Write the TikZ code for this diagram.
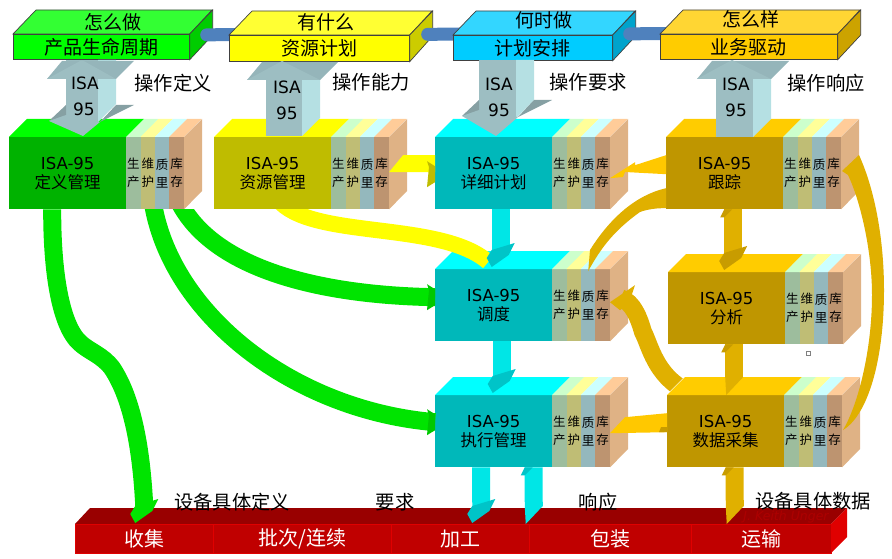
\documentclass[tikz,border=0pt]{standalone}
\usepackage{fontspec}
\setmainfont{Noto Sans CJK SC}
\newfontfamily\latinfont{DejaVu Sans}
\definecolor{stripa}{HTML}{9DBD9D}
\definecolor{stripb}{HTML}{BFBD75}
\definecolor{stripc}{HTML}{94B8BD}
\definecolor{stripd}{HTML}{BD9470}
\definecolor{stripatop}{HTML}{CCFFCC}
\definecolor{stripbtop}{HTML}{FFFF99}
\definecolor{stripctop}{HTML}{CCFFFF}
\definecolor{stripdtop}{HTML}{FFCC99}
\definecolor{sidetan}{HTML}{DFB285}
\definecolor{isafront}{HTML}{9DBEC2}
\definecolor{isaside}{HTML}{B5E0E3}
\definecolor{isawing}{HTML}{86A0A3}
\definecolor{isahead}{HTML}{95B5BA}
\definecolor{pipeblue}{HTML}{4F81BD}
\definecolor{greenrib}{HTML}{00E400}
\definecolor{greendark}{HTML}{00C800}
\definecolor{cyanrib}{HTML}{00E6E6}
\definecolor{cyandark}{HTML}{00C4C8}
\definecolor{goldrib}{HTML}{E0B000}
\definecolor{golddark}{HTML}{C89C00}
\definecolor{amberrib}{HTML}{FFC800}
\definecolor{skyfront}{HTML}{00CCFF}
\definecolor{greentop}{HTML}{00FF00}
\definecolor{greenfront}{HTML}{00B200}
\definecolor{yellowtop}{HTML}{FFFF00}
\definecolor{yellowfront}{HTML}{BFBC00}
\definecolor{cyantop}{HTML}{00FFFF}
\definecolor{cyanfront}{HTML}{00B8BA}
\definecolor{goldtop}{HTML}{FFCC00}
\definecolor{goldfront}{HTML}{BF9600}
\definecolor{redfront}{HTML}{C00000}
\definecolor{redtop}{HTML}{990000}
\definecolor{redside}{HTML}{E00000}
\tikzset{
	barfront/.style={draw=black!75,line width=0.7pt,anchor=north west,inner sep=0pt,font=\fontsize{19}{21}\selectfont},
	bartext/.style={font=\fontsize{19}{21}\selectfont,inner sep=0pt,text=black},
	modfront/.style={anchor=north west,minimum width=117,minimum height=72,inner sep=0pt,align=center,font=\fontsize{16.5}{19}\selectfont,text=black},
	stripbox/.style={anchor=north west,text width=14.4,minimum height=72,inner sep=0pt,align=center,font=\fontsize{12.5}{18}\selectfont,text=black},
	redseg/.style={anchor=north west,minimum height=29,inner sep=0pt,fill=redfront,draw=redside,line width=0.5pt,text=white,font=\fontsize{20}{22}\selectfont},
	toplabel/.style={font=\fontsize{19.3}{21}\selectfont,inner sep=0pt,text=black},
	isatext/.style={font=\latinfont\fontsize{17}{19}\selectfont,inner sep=0pt,text=black},
	ribbon/.style={line width=18pt},
	pipe/.style={line width=13pt,line cap=round,pipeblue}
}
% front, top and side of a bar at the top
\newcommand{\topbar}[9]{%
	\node[barfront,fill=#6,minimum width=#4,minimum height=#5] (#1) at (#2,#3) {#9};
	\filldraw[draw=black!75,line width=0.7pt,fill=#7] (#1.north west) -- ++(23,-24) -- ++(#4,0) -- (#1.north east) -- cycle;
	\filldraw[draw=black!75,line width=0.7pt,fill=#8] (#1.north east) -- ++(23,-24) -- ++(0,25) -- (#1.south east) -- cycle;
}
% one ISA-95 module with its four strips
\newcommand{\modbox}[6]{%
	\node[modfront,fill=#4] (#1) at (#2,#3) {{\latinfont ISA-95}\\#6};
	\fill[#5] (#1.north west) -- ++(18,-18) -- ++(117,0) -- (#1.north east) -- cycle;
	\foreach \sfc/\stc/\sa/\sb [count=\n] in {stripa/stripatop/生/产,stripb/stripbtop/维/护,stripc/stripctop/质/里,stripd/stripdtop/库/存}{
		\node[stripbox,fill=\sfc] (#1-\n) at ({#2+117+14.4*(\n-1)},#3) {\sa\\\sb};
		\fill[\stc] (#1-\n.north west) -- ++(18,-18) -- ++(14.4,0) -- (#1-\n.north east) -- cycle;
	}
	\fill[sidetan] (#1-4.north east) -- ++(18,-18) -- ++(0,72) -- (#1-4.south east) -- cycle;
}
% shaft of a block arrow: x, width, top, bottom
\newcommand{\isabody}[4]{%
	\fill[isaside] ({#1+#2},#3) -- ++(18,0) -- ({#1+#2+18},{#4-18}) -- ({#1+#2},#4) -- cycle;
	\fill[isafront] (#1,#3) rectangle ({#1+#2},#4);
}
% upper head: x, width, y of its tip
\newcommand{\isaup}[3]{%
	\fill[isahead] ({#1-19},{#3+19}) -- ({#1-4},{#3+1}) -- ({#1+#2+36},{#3+1}) -- ({#1+#2+18},{#3+19}) -- cycle;
	\fill[isafront] ({#1-19},{#3+19}) -- ({#1+16},#3) -- ({#1+#2+18},{#3+19}) -- cycle;
}
% lower head: x, width, y of its wings, y of its tip
\newcommand{\isadown}[4]{%
	\fill[isawing] (#1,#3) -- ({#1-17},{#3+16}) -- (#1,{#3+16}) -- cycle;
	\fill[isawing] ({#1+#2+18},#3) -- ({#1+#2+36},#3) -- ({#1+#2+2},{#3+17}) -- cycle;
	\fill[isafront] ({#1-17},{#3+16}) -- ({#1+17},#4) -- ({#1+#2+2},{#3+17}) -- (#1,{#3+10}) -- cycle;
}
% heads of the ribbons, each placed from the end of its ribbon
\newcommand{\headdown}[2]{\fill[#1] (#2) ++(-9,17) -- ++(-5,-9) -- ++(5,-8) -- ++(23,-7) -- ++(-6,12) -- cycle;}
\newcommand{\headup}[2]{\fill[#1] (#2) ++(-9,0) -- ++(-4,8) -- ++(4,0) -- ++(8,-8) -- cycle;}
\newcommand{\basetip}[2]{\fill[#1] (#2) ++(-9,0) -- ++(18,0) -- ++(-17,18) -- cycle;}
\newcommand{\headeast}[2]{\fill[#1] (#2) ++(0,-8) -- ++(-8,-5) -- ++(2,6) -- ++(-2,20) -- ++(8,-5) -- cycle;}
\begin{document}
\begin{tikzpicture}[x=1pt,y=-1pt]
	\useasboundingbox (0,0) rectangle (892,559);
	
	% Top row
	\coordinate (pipea) at (238,34.5);
	\coordinate (pipeb) at (462,34);
	\coordinate (pipec) at (668,33.5);
	\topbar{defbar}{13}{34}{176}{25}{greentop}{greentop!80!white}{greentop!80!black}{产品生命周期}
	\draw[pipe] ([xshift=17,yshift=12]defbar.east) -- (pipea);
	\topbar{resbar}{229}{35}{180}{26}{yellowtop}{yellowtop!80!white}{yellowtop!80!black}{资源计划}
	\draw[pipe] ([xshift=18,yshift=14]resbar.east) -- (pipeb);
	\topbar{planbar}{453}{35}{159}{25}{skyfront}{skyfront!80!white}{skyfront!80!black}{计划安排}
	\draw[pipe] ([xshift=17,yshift=14]planbar.east) -- (pipec);
	\topbar{busbar}{660}{34}{177}{25}{goldtop}{goldtop!80!white}{goldtop!80!black}{业务驱动}
	\node[bartext] (howdo) at (113,22) {怎么做};
	\node[bartext] (whathave) at (326,22) {有什么};
	\node[bartext] (whendo) at (544,20) {何时做};
	\node[bartext] (howgo) at (751,19) {怎么样};
	
	% Red bar at the bottom
	\fill[redtop] (75,524) -- (90,508) -- (847,508) -- (831,524) -- cycle;
	\fill[redside] (831,524) -- (847,508) -- (847,537) -- (831,553) -- cycle;
	\node[redseg,minimum width=138] (collect) at (75,524) {收集};
	\node[redseg,minimum width=178] (batch) at (213,524) {批次/连续};
	\node[redseg,minimum width=138] (process) at (391,524) {加工};
	\node[redseg,minimum width=162] (pack) at (529,524) {包装};
	\node[redseg,minimum width=140] (ship) at (691,524) {运输};
	\node[font=\latinfont\itshape\fontsize{12.5}{14}\selectfont,text=red!68!black,inner sep=0pt] (keith) at (786,517) {J. Keith Unger};
	
	% Modules
	\modbox{defmod}{9}{137}{greenfront}{greentop}{定义管理}
	\modbox{resmod}{214}{137}{yellowfront}{yellowtop}{资源管理}
	\modbox{detmod}{435}{137}{cyanfront}{cyantop}{详细计划}
	\modbox{trackmod}{666}{137}{goldfront}{goldtop}{跟踪}
	\modbox{schedmod}{435}{269}{cyanfront}{cyantop}{调度}
	\modbox{anamod}{668}{272}{goldfront}{goldtop}{分析}
	\modbox{execmod}{435}{395}{cyanfront}{cyantop}{执行管理}
	\modbox{datamod}{667}{395}{goldfront}{goldtop}{数据采集}
	
	% Ribbons below the two upper left modules
	\begin{scope}
		\clip (defmod.south west) rectangle (892,559);
		\draw[ribbon,greenrib] ([xshift=-15.5]defmod.south) .. controls (52,270) and (60,325) .. (80,343) .. controls (90,352) and (102,355) .. (112,368) .. controls (130,395) and (141,440) .. ([yshift=18]collect.north);
		\draw[ribbon,greenrib] ([xshift=84,yshift=15]defmod.south) .. controls (165,310) and (290,410) .. ([yshift=9]execmod.west);
		\draw[ribbon,greenrib] ([xshift=108,yshift=15]defmod.south) .. controls (205,265) and (310,295) .. ([yshift=8]schedmod.west);
		\draw[line width=16pt,yellowtop] ([xshift=5,yshift=10]resmod.south) .. controls (310,240) and (440,220) .. ([xshift=-5.5,yshift=7]schedmod.north);
	\end{scope}
	\headdown{greenrib}{[yshift=18]collect.north}
	\headeast{greendark}{[yshift=9]execmod.west}
	\headeast{greendark}{[yshift=8]schedmod.west}
	
	% Yellow ribbon to the right
	\fill[yellowtop] (resmod-4.east) ++(0,-1) -- ++(14,-17) -- ([yshift=18]detmod.west) -- ([yshift=1]detmod.west) -- cycle;
	\headeast{yellowfront}{[yshift=-1]detmod.west}
	
	% Cyan ribbons
	\draw[ribbon,cyanrib] ([xshift=7]detmod.south) -- ([xshift=7,yshift=19]schedmod.north);
	\headdown{cyandark}{[xshift=7,yshift=19]schedmod.north}
	\draw[ribbon,cyanrib] ([xshift=8]schedmod.south) -- ([xshift=8,yshift=19]execmod.north);
	\headdown{cyandark}{[xshift=8,yshift=19]execmod.north}
	\draw[ribbon,cyanrib] ([xshift=-12.5]execmod.south) -- ([xshift=21,yshift=18]process.north);
	\headdown{cyandark}{[xshift=21,yshift=18]process.north}
	\draw[ribbon,cyanrib] ([xshift=73.5,yshift=18]process.north) -- ([xshift=40]execmod.south);
	\basetip{cyanrib}{[xshift=73.5,yshift=18]process.north}
	\headup{cyandark}{[xshift=40]execmod.south}
	
	% Gold ribbons
	\draw[ribbon,goldrib] ([xshift=-26.5,yshift=18]ship.north) -- ([xshift=9]datamod.south);
	\basetip{goldrib}{[xshift=-26.5,yshift=18]ship.north}
	\headup{golddark}{[xshift=9]datamod.south}
	\draw[ribbon,goldrib] ([xshift=8.5,yshift=18]datamod.north) -- ([xshift=7.5]anamod.south);
	\basetip{goldrib}{[xshift=8.5,yshift=18]datamod.north}
	\headup{golddark}{[xshift=7.5]anamod.south}
	\draw[ribbon,goldrib] ([xshift=8.5]trackmod.south) -- ([xshift=6.5,yshift=19]anamod.north);
	\headup{golddark}{[xshift=8.5]trackmod.south}
	\headdown{golddark}{[xshift=6.5,yshift=19]anamod.north}
	\begin{scope}
		\clip (600,270) -- (700,270) -- (684,377) -- (666,395) -- (600,395) -- cycle;
		\draw[ribbon,goldrib] ([xshift=-39.5,yshift=4]datamod.north) .. controls (655,375) and (650,345) .. (643,332) .. controls (639,318) and (633,302) .. ([xshift=10.5,yshift=7]schedmod-4.east);
	\end{scope}
	\fill[goldrib] ([yshift=3]schedmod-4.east) -- ++(25,-17) -- ++(-6,18) -- ++(-9,7) -- cycle;
	\fill[goldrib] ([yshift=-15]trackmod.west) .. controls (636,195) and (610,218) .. (590,250) -- ([xshift=94.5,yshift=-2]schedmod.north) .. controls (600,250) and (612,232) .. (640,212) .. controls (648,209) and (658,208) .. ([yshift=-35]trackmod.west) -- cycle;
	\fill[goldrib] (843,430) .. controls (868,415) and (884,360) .. (884,290) .. controls (884,240) and (875,190) .. (859,155) -- (842,171) -- (848,175) .. controls (860,200) and (872,250) .. (872,295) .. controls (872,350) and (858,405) .. (843,430) -- cycle;
	\fill[amberrib] ([yshift=-5]detmod-4.east) -- ++(25,-16) -- ++(0,3) -- ([yshift=18]trackmod.west) -- ([yshift=-1]trackmod.west) -- (625,172) -- (623,177) -- cycle;
	\fill[amberrib] ([yshift=-2]execmod-4.east) -- ++(15,-16) -- ([yshift=18]datamod.west) -- ([yshift=-1]datamod.west) -- cycle;
	\fill[golddark] ([yshift=-1]datamod.west) -- ++(-8,0) -- ++(2,-5) -- ++(6,0) -- cycle;
	
	% ISA-95 arrows
	\isabody{66}{32}{60}{122}
	\isaup{66}{32}{60}
	\isadown{66}{32}{105}{136}
	\isabody{266}{36}{79}{136}
	\isaup{266}{36}{61}
	\isabody{479}{37}{60}{118}
	\isadown{479}{37}{100}{136}
	\isabody{716}{37}{79}{137}
	\isaup{716}{37}{60}
	\node[isatext] (isaa) at (85,83) {ISA};
	\node[isatext] (isab) at (84,109) {95};
	\node[isatext] (isac) at (287,87) {ISA};
	\node[isatext] (isad) at (287,113) {95};
	\node[isatext] (isae) at (499,84) {ISA};
	\node[isatext] (isaf) at (499,110) {95};
	\node[isatext] (isag) at (736,84) {ISA};
	\node[isatext] (isah) at (736,110) {95};
	
	% Labels
	\node[toplabel] (opdef) at (173,83) {操作定义};
	\node[toplabel] (opcap) at (371,82) {操作能力};
	\node[toplabel] (opreq) at (588,82) {操作要求};
	\node[toplabel] (opresp) at (826,83) {操作响应};
	\node[toplabel] (devdef) at (232,502) {设备具体定义};
	\node[toplabel] (reqtext) at (395,502) {要求};
	\node[toplabel] (resptext) at (598,502) {响应};
	\node[toplabel] (devdata) at (813,501) {设备具体数据};
	\node[draw=black!50,fill=white,line width=0.6pt,minimum size=4,inner sep=0pt] (handle) at (808,353) {};
\end{tikzpicture}
\end{document}
